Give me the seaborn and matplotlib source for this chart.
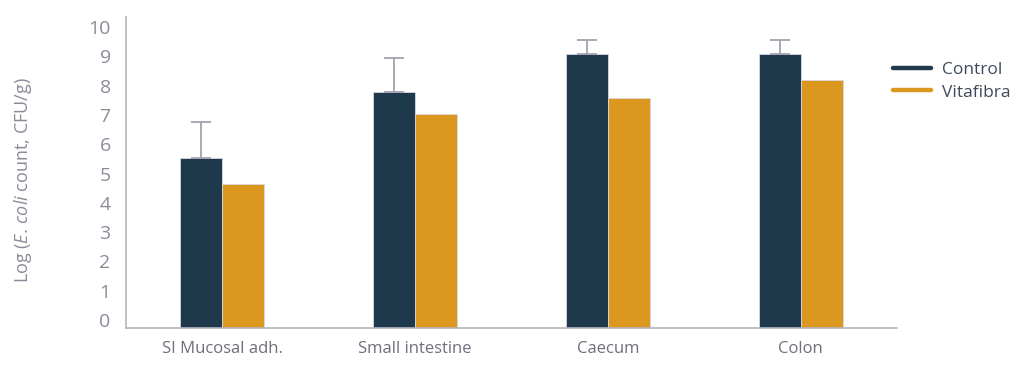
import numpy as np
import pandas as pd
import matplotlib
matplotlib.use("Agg")
import matplotlib.pyplot as plt
import matplotlib.transforms as mtransforms
from matplotlib.lines import Line2D
import seaborn as sns

# data
sites = ["SI Mucosal adh.", "Small intestine", "Caecum", "Colon"]
control = [5.80, 8.07, 9.36, 9.34]
vitafibra = [4.90, 7.29, 7.84, 8.45]
control_err = [1.24, 1.13, 0.47, 0.49]
groups = ["Control", "Vitafibra"]
colors = {"Control": "#1f394c", "Vitafibra": "#dc971e"}

df = pd.DataFrame({
    "site": sites * 2,
    "group": ["Control"] * len(sites) + ["Vitafibra"] * len(sites),
    "value": control + vitafibra,
})

sns.set_style("white")
plt.rcParams["font.family"] = ["Open Sans", "DejaVu Sans"]
plt.rcParams["mathtext.fontset"] = "custom"
plt.rcParams["mathtext.rm"] = "Open Sans"
plt.rcParams["mathtext.it"] = "Open Sans:italic"

grey = "#8b8b9a"
spine = "#b4b4c0"

fig = plt.figure(figsize=(10.24, 3.72), dpi=100)
ax = fig.add_axes([0.123, 0.118, 0.753, 0.836])

sns.barplot(data=df, x="site", y="value", hue="group", palette=colors,
            saturation=1, width=0.436, edgecolor="#d8d8e0", linewidth=0.6,
            ax=ax, legend=False, errorbar=None)

# one-sided error bars on the control bars
xs = [p.get_x() + p.get_width() / 2 for p in ax.containers[0]]
ax.errorbar(xs, control, yerr=[np.zeros(len(control)), control_err],
            fmt="none", ecolor="#a3a3b0", elinewidth=1.3, capsize=7.5,
            capthick=1.3, zorder=3)

ax.set_ylim(0, 10.61)
ax.set_yticks(range(0, 11))
ax.set_xlim(-0.5, 3.5)
ax.set_xlabel("")
ax.set_ylabel("")

for s in ["top", "right"]:
    ax.spines[s].set_visible(False)
for s in ["left", "bottom"]:
    ax.spines[s].set_color(spine)
    ax.spines[s].set_linewidth(1.2)

ax.tick_params(axis="y", length=0, pad=11, labelsize=14, labelcolor=grey)
ax.tick_params(axis="x", length=0, pad=9, labelsize=12, labelcolor="#6f6f7e")

# value labels sit a little above their gridline in the original
offset = mtransforms.ScaledTranslation(0, 0.08, fig.dpi_scale_trans)
for lab in ax.get_yticklabels():
    lab.set_transform(lab.get_transform() + offset)

fig.text(0.022, 0.516, r"Log ($\mathit{E.\,coli}$ count, CFU/g)", rotation=90,
         ha="center", va="center", fontsize=13, color=grey)

handles = [Line2D([0], [0], color=colors[g], lw=3.2) for g in groups]
fig.legend(handles, groups, loc="upper left", bbox_to_anchor=(0.857, 0.875),
           frameon=False, fontsize=12.5, handlelength=2.2, handletextpad=0.6,
           labelspacing=0.35, labelcolor="#3e4a5a")

fig.savefig("out.png", dpi=100)
